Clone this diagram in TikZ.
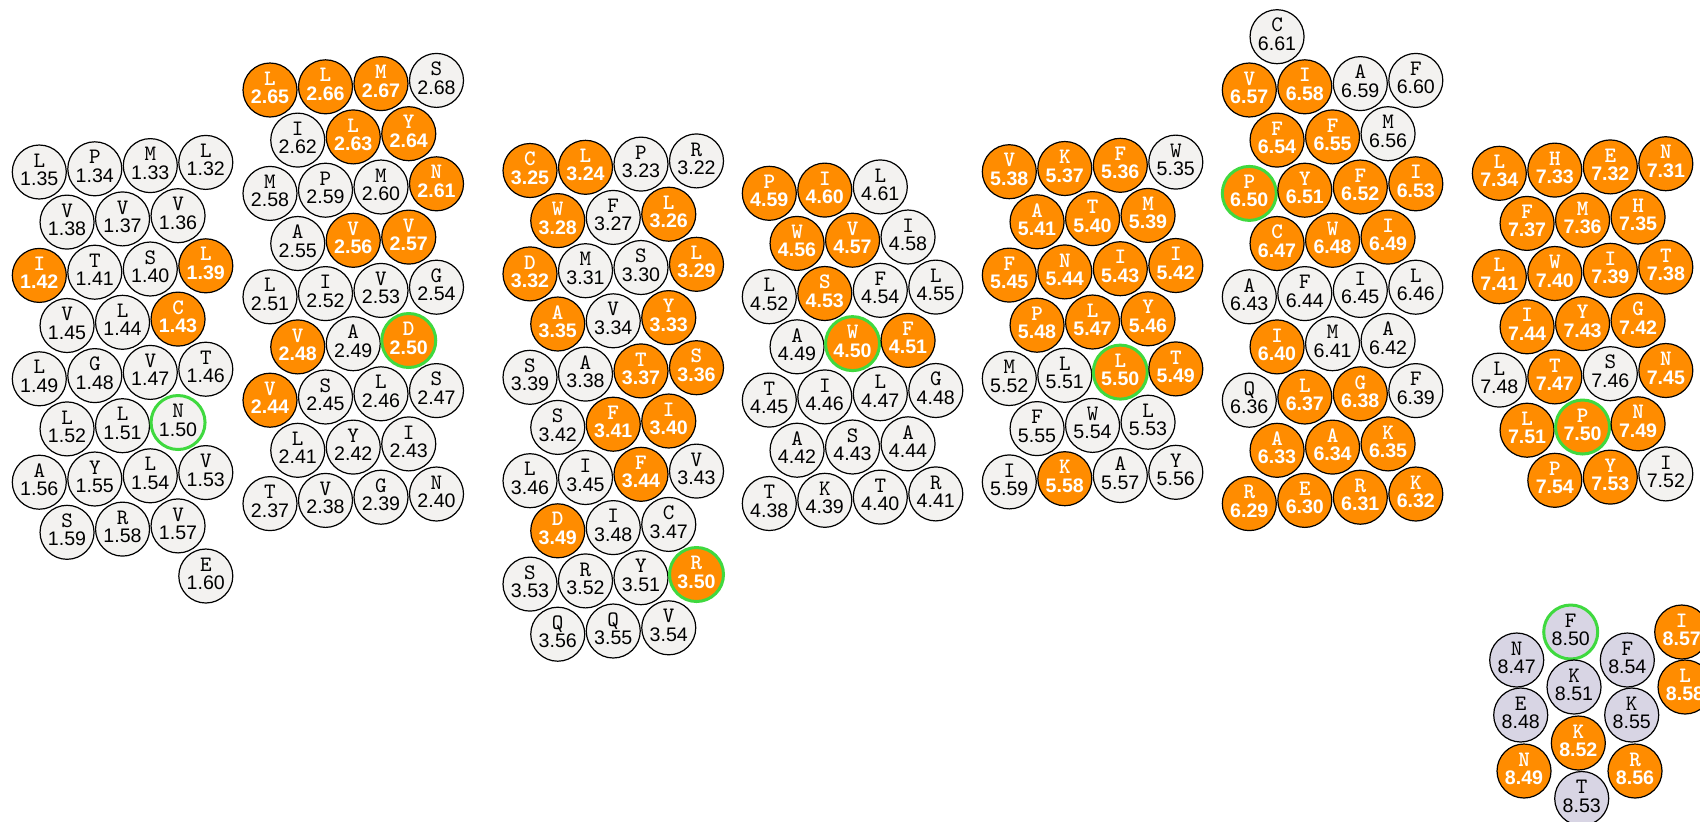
\documentclass[tikz,border=0pt]{standalone}
\usepackage{fontspec}
\setmainfont{Liberation Sans}
\newfontfamily\resletfont{lmmono10-regular.otf}[BoldFont=lmmonolt10-bold.otf]
\newfontfamily\resnumfont{Liberation Sans}
\definecolor{resgrey}{HTML}{F3F2F0}
\definecolor{resorange}{HTML}{FF8C00}
\definecolor{reslav}{HTML}{D8D5E4}
\definecolor{resgreen}{HTML}{3FD93F}
\tikzset{
  res/.style={circle, draw=black, line width=0.6pt, minimum size=27pt, inner sep=0pt, align=center, font=\fontsize{9.8}{9.2}\selectfont},
  rg/.style={res, fill=resgrey, text=black},
  ro/.style={res, fill=resorange, text=white, font=\fontsize{9.8}{9.2}\selectfont\bfseries},
  rl/.style={res, fill=reslav, text=black},
  hl/.style={draw=resgreen, line width=1.5pt},
}
\def\hsx{27.75}\def\hdy{51.7}\def\hsl{1.6}
\newcommand\rs[6]{\node[#4] (#1) at ({\hxo+(#3)*\hsx},{\hyo+(#2)*\hdy-(#3)*\hsl}) {{\resletfont\fontsize{11}{9.2}\selectfont #5}\\{\resnumfont #6}\rule[-2.4pt]{0pt}{2.4pt}};}
\newcommand\rp[6]{\node[#4] (#1) at (#2,#3) {{\resletfont\fontsize{11}{9.2}\selectfont #5}\\{\resnumfont #6}\rule[-2.4pt]{0pt}{2.4pt}};}
\begin{document}
\begin{tikzpicture}[x=0.5pt,y=-0.5pt]
\fill[white] (0,0) rectangle (1700,821);
\useasboundingbox (0,0) rectangle (1700,821);
% Helix 1
\def\hxo{39.3}\def\hyo{172}
\rs{a135}{0}{0}{rg}{L}{1.35}\rs{a134}{0}{2}{rg}{P}{1.34}\rs{a133}{0}{4}{rg}{M}{1.33}\rs{a132}{0}{6}{rg}{L}{1.32}
\rs{a138}{1}{1}{rg}{V}{1.38}\rs{a137}{1}{3}{rg}{V}{1.37}\rs{a136}{1}{5}{rg}{V}{1.36}
\rs{a142}{2}{0}{ro}{I}{1.42}\rs{a141}{2}{2}{rg}{T}{1.41}\rs{a140}{2}{4}{rg}{S}{1.40}\rs{a139}{2}{6}{ro}{L}{1.39}
\rs{a145}{3}{1}{rg}{V}{1.45}\rs{a144}{3}{3}{rg}{L}{1.44}\rs{a143}{3}{5}{ro}{C}{1.43}
\rs{a149}{4}{0}{rg}{L}{1.49}\rs{a148}{4}{2}{rg}{G}{1.48}\rs{a147}{4}{4}{rg}{V}{1.47}\rs{a146}{4}{6}{rg}{T}{1.46}
\rs{a152}{5}{1}{rg}{L}{1.52}\rs{a151}{5}{3}{rg}{L}{1.51}\rs{a150}{5}{5}{rg,hl}{N}{1.50}
\rs{a156}{6}{0}{rg}{A}{1.56}\rs{a155}{6}{2}{rg}{Y}{1.55}\rs{a154}{6}{4}{rg}{L}{1.54}\rs{a153}{6}{6}{rg}{V}{1.53}
\rs{a159}{7}{1}{rg}{S}{1.59}\rs{a158}{7}{3}{rg}{R}{1.58}\rs{a157}{7}{5}{rg}{V}{1.57}
\rs{a160}{8}{6}{rg}{E}{1.60}
% Helix 2
\def\hxo{270}\def\hyo{90}
\rs{b265}{0}{0}{ro}{L}{2.65}\rs{b266}{0}{2}{ro}{L}{2.66}\rs{b267}{0}{4}{ro}{M}{2.67}\rs{b268}{0}{6}{rg}{S}{2.68}
\rs{b262}{1}{1}{rg}{I}{2.62}\rs{b263}{1}{3}{ro}{L}{2.63}\rs{b264}{1}{5}{ro}{Y}{2.64}
\rs{b258}{2}{0}{rg}{M}{2.58}\rs{b259}{2}{2}{rg}{P}{2.59}\rs{b260}{2}{4}{rg}{M}{2.60}\rs{b261}{2}{6}{ro}{N}{2.61}
\rs{b255}{3}{1}{rg}{A}{2.55}\rs{b256}{3}{3}{ro}{V}{2.56}\rs{b257}{3}{5}{ro}{V}{2.57}
\rs{b251}{4}{0}{rg}{L}{2.51}\rs{b252}{4}{2}{rg}{I}{2.52}\rs{b253}{4}{4}{rg}{V}{2.53}\rs{b254}{4}{6}{rg}{G}{2.54}
\rs{b248}{5}{1}{ro}{V}{2.48}\rs{b249}{5}{3}{rg}{A}{2.49}\rs{b250}{5}{5}{ro,hl}{D}{2.50}
\rs{b244}{6}{0}{ro}{V}{2.44}\rs{b245}{6}{2}{rg}{S}{2.45}\rs{b246}{6}{4}{rg}{L}{2.46}\rs{b247}{6}{6}{rg}{S}{2.47}
\rs{b241}{7}{1}{rg}{L}{2.41}\rs{b242}{7}{3}{rg}{Y}{2.42}\rs{b243}{7}{5}{rg}{I}{2.43}
\rs{b237}{8}{0}{rg}{T}{2.37}\rs{b238}{8}{2}{rg}{V}{2.38}\rs{b239}{8}{4}{rg}{G}{2.39}\rs{b240}{8}{6}{rg}{N}{2.40}
% Helix 3
\def\hxo{530}\def\hyo{170.5}
\rs{c325}{0}{0}{ro}{C}{3.25}\rs{c324}{0}{2}{ro}{L}{3.24}\rs{c323}{0}{4}{rg}{P}{3.23}\rs{c322}{0}{6}{rg}{R}{3.22}
\rs{c328}{1}{1}{ro}{W}{3.28}\rs{c327}{1}{3}{rg}{F}{3.27}\rs{c326}{1}{5}{ro}{L}{3.26}
\rs{c332}{2}{0}{ro}{D}{3.32}\rs{c331}{2}{2}{rg}{M}{3.31}\rs{c330}{2}{4}{rg}{S}{3.30}\rs{c329}{2}{6}{ro}{L}{3.29}
\rs{c335}{3}{1}{ro}{A}{3.35}\rs{c334}{3}{3}{rg}{V}{3.34}\rs{c333}{3}{5}{ro}{Y}{3.33}
\rs{c339}{4}{0}{rg}{S}{3.39}\rs{c338}{4}{2}{rg}{A}{3.38}\rs{c337}{4}{4}{ro}{T}{3.37}\rs{c336}{4}{6}{ro}{S}{3.36}
\rs{c342}{5}{1}{rg}{S}{3.42}\rs{c341}{5}{3}{ro}{F}{3.41}\rs{c340}{5}{5}{ro}{I}{3.40}
\rs{c346}{6}{0}{rg}{L}{3.46}\rs{c345}{6}{2}{rg}{I}{3.45}\rs{c344}{6}{4}{ro}{F}{3.44}\rs{c343}{6}{6}{rg}{V}{3.43}
\rs{c349}{7}{1}{ro}{D}{3.49}\rs{c348}{7}{3}{rg}{I}{3.48}\rs{c347}{7}{5}{rg}{C}{3.47}
\rs{c353}{8}{0}{rg}{S}{3.53}\rs{c352}{8}{2}{rg}{R}{3.52}\rs{c351}{8}{4}{rg}{Y}{3.51}\rs{c350}{8}{6}{ro,hl}{R}{3.50}
\rs{c356}{9}{1}{rg}{Q}{3.56}\rs{c355}{9}{3}{rg}{Q}{3.55}\rs{c354}{9}{5}{rg}{V}{3.54}
% Helix 4
\def\hxo{769.3}\def\hyo{193.3}
\rs{d459}{0}{0}{ro}{P}{4.59}\rs{d460}{0}{2}{ro}{I}{4.60}\rs{d461}{0}{4}{rg}{L}{4.61}
\rs{d456}{1}{1}{ro}{W}{4.56}\rs{d457}{1}{3}{ro}{V}{4.57}\rs{d458}{1}{5}{rg}{I}{4.58}
\rs{d452}{2}{0}{rg}{L}{4.52}\rs{d453}{2}{2}{ro}{S}{4.53}\rs{d454}{2}{4}{rg}{F}{4.54}\rs{d455}{2}{6}{rg}{L}{4.55}
\rs{d449}{3}{1}{rg}{A}{4.49}\rs{d450}{3}{3}{ro,hl}{W}{4.50}\rs{d451}{3}{5}{ro}{F}{4.51}
\rs{d445}{4}{0}{rg}{T}{4.45}\rs{d446}{4}{2}{rg}{I}{4.46}\rs{d447}{4}{4}{rg}{L}{4.47}\rs{d448}{4}{6}{rg}{G}{4.48}
\rs{d442}{5}{1}{rg}{A}{4.42}\rs{d443}{5}{3}{rg}{S}{4.43}\rs{d444}{5}{5}{rg}{A}{4.44}
\rs{d438}{6}{0}{rg}{T}{4.38}\rs{d439}{6}{2}{rg}{K}{4.39}\rs{d440}{6}{4}{rg}{T}{4.40}\rs{d441}{6}{6}{rg}{R}{4.41}
% Helix 5
\def\hxo{1009.3}\def\hyo{171.7}
\rs{e538}{0}{0}{ro}{V}{5.38}\rs{e537}{0}{2}{ro}{K}{5.37}\rs{e536}{0}{4}{ro}{F}{5.36}\rs{e535}{0}{6}{rg}{W}{5.35}
\rs{e541}{1}{1}{ro}{A}{5.41}\rs{e540}{1}{3}{ro}{T}{5.40}\rs{e539}{1}{5}{ro}{M}{5.39}
\rs{e545}{2}{0}{ro}{F}{5.45}\rs{e544}{2}{2}{ro}{N}{5.44}\rs{e543}{2}{4}{ro}{I}{5.43}\rs{e542}{2}{6}{ro}{I}{5.42}
\rs{e548}{3}{1}{ro}{P}{5.48}\rs{e547}{3}{3}{ro}{L}{5.47}\rs{e546}{3}{5}{ro}{Y}{5.46}
\rs{e552}{4}{0}{rg}{M}{5.52}\rs{e551}{4}{2}{rg}{L}{5.51}\rs{e550}{4}{4}{ro,hl}{L}{5.50}\rs{e549}{4}{6}{ro}{T}{5.49}
\rs{e555}{5}{1}{rg}{F}{5.55}\rs{e554}{5}{3}{rg}{W}{5.54}\rs{e553}{5}{5}{rg}{L}{5.53}
\rs{e559}{6}{0}{rg}{I}{5.59}\rs{e558}{6}{2}{ro}{K}{5.58}\rs{e557}{6}{4}{rg}{A}{5.57}\rs{e556}{6}{6}{rg}{Y}{5.56}
% Helix 6
\def\hxo{1249.3}\def\hyo{90}
\rs{f661}{-1}{1}{rg}{C}{6.61}
\rs{f657}{0}{0}{ro}{V}{6.57}\rs{f658}{0}{2}{ro}{I}{6.58}\rs{f659}{0}{4}{rg}{A}{6.59}\rs{f660}{0}{6}{rg}{F}{6.60}
\rs{f654}{1}{1}{ro}{F}{6.54}\rs{f655}{1}{3}{ro}{F}{6.55}\rs{f656}{1}{5}{rg}{M}{6.56}
\rs{f650}{2}{0}{ro,hl}{P}{6.50}\rs{f651}{2}{2}{ro}{Y}{6.51}\rs{f652}{2}{4}{ro}{F}{6.52}\rs{f653}{2}{6}{ro}{I}{6.53}
\rs{f647}{3}{1}{ro}{C}{6.47}\rs{f648}{3}{3}{ro}{W}{6.48}\rs{f649}{3}{5}{ro}{I}{6.49}
\rs{f643}{4}{0}{rg}{A}{6.43}\rs{f644}{4}{2}{rg}{F}{6.44}\rs{f645}{4}{4}{rg}{I}{6.45}\rs{f646}{4}{6}{rg}{L}{6.46}
\rs{f640}{5}{1}{ro}{I}{6.40}\rs{f641}{5}{3}{rg}{M}{6.41}\rs{f642}{5}{5}{rg}{A}{6.42}
\rs{f636}{6}{0}{rg}{Q}{6.36}\rs{f637}{6}{2}{ro}{L}{6.37}\rs{f638}{6}{4}{ro}{G}{6.38}\rs{f639}{6}{6}{rg}{F}{6.39}
\rs{f633}{7}{1}{ro}{A}{6.33}\rs{f634}{7}{3}{ro}{A}{6.34}\rs{f635}{7}{5}{ro}{K}{6.35}
\rs{f629}{8}{0}{ro}{R}{6.29}\rs{f630}{8}{2}{ro}{E}{6.30}\rs{f631}{8}{4}{ro}{R}{6.31}\rs{f632}{8}{6}{ro}{K}{6.32}
% Helix 7
\def\hxo{1499.3}\def\hyo{173.3}
\rs{g734}{0}{0}{ro}{L}{7.34}\rs{g733}{0}{2}{ro}{H}{7.33}\rs{g732}{0}{4}{ro}{E}{7.32}\rs{g731}{0}{6}{ro}{N}{7.31}
\rs{g737}{1}{1}{ro}{F}{7.37}\rs{g736}{1}{3}{ro}{M}{7.36}\rs{g735}{1}{5}{ro}{H}{7.35}
\rs{g741}{2}{0}{ro}{L}{7.41}\rs{g740}{2}{2}{ro}{W}{7.40}\rs{g739}{2}{4}{ro}{I}{7.39}\rs{g738}{2}{6}{ro}{T}{7.38}
\rs{g744}{3}{1}{ro}{I}{7.44}\rs{g743}{3}{3}{ro}{Y}{7.43}\rs{g742}{3}{5}{ro}{G}{7.42}
\rs{g748}{4}{0}{rg}{L}{7.48}\rs{g747}{4}{2}{ro}{T}{7.47}\rs{g746}{4}{4}{rg}{S}{7.46}\rs{g745}{4}{6}{ro}{N}{7.45}
\rs{g751}{5}{1}{ro}{L}{7.51}\rs{g750}{5}{3}{ro,hl}{P}{7.50}\rs{g749}{5}{5}{ro}{N}{7.49}
\rs{g754}{6}{2}{ro}{P}{7.54}\rs{g753}{6}{4}{ro}{Y}{7.53}\rs{g752}{6}{6}{rg}{I}{7.52}
% Helix 8
\rp{h850}{1570.7}{632}{rl,hl}{F}{8.50}
\rp{h847}{1516.7}{660}{rl}{N}{8.47}
\rp{h854}{1627.3}{660}{rl}{F}{8.54}
\rp{h857}{1681.7}{632}{ro}{I}{8.57}
\rp{h851}{1574}{687}{rl}{K}{8.51}
\rp{h848}{1520.7}{715}{rl}{E}{8.48}
\rp{h855}{1631.7}{715}{rl}{K}{8.55}
\rp{h858}{1685}{687}{ro}{L}{8.58}
\rp{h852}{1578.3}{743}{ro}{K}{8.52}
\rp{h849}{1524}{771}{ro}{N}{8.49}
\rp{h856}{1635}{771}{ro}{R}{8.56}
\rp{h853}{1581.7}{798.5}{rl}{T}{8.53}
\end{tikzpicture}
\end{document}
